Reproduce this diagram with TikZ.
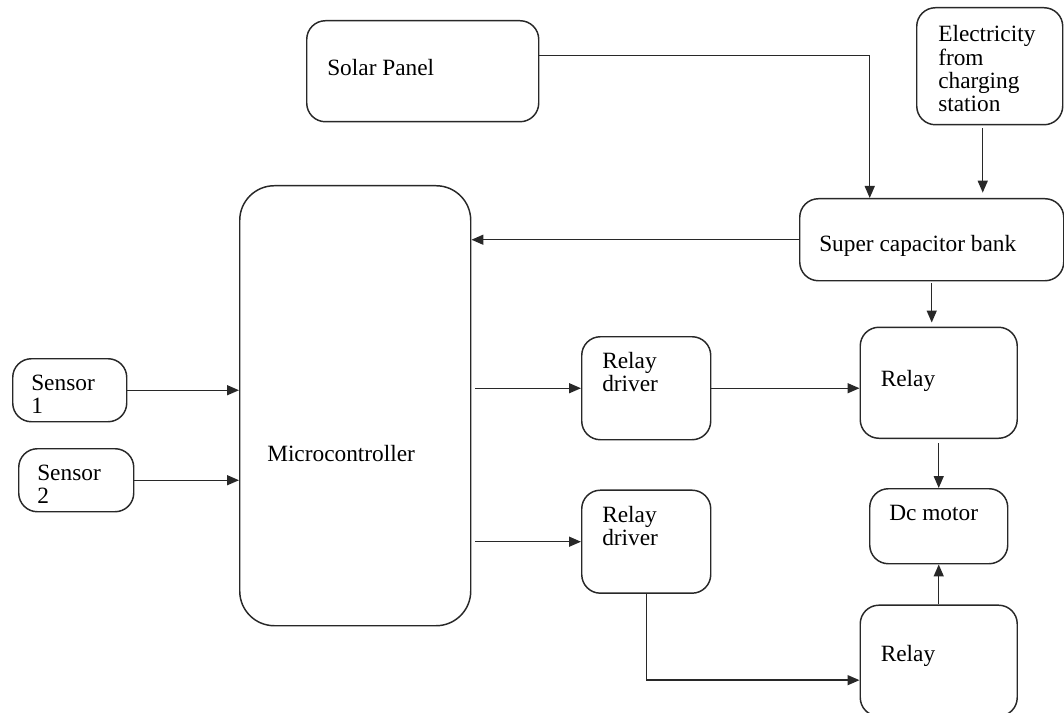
\documentclass[tikz,border=0pt]{standalone}
\usepackage{fontspec}
\setmainfont{Liberation Serif}
\usetikzlibrary{arrows.meta,positioning}
\definecolor{LineGray}{RGB}{40,40,40}
\tikzset{
  block/.style={draw=LineGray, line width=1.1pt, rounded corners=14pt, inner sep=0pt},
  tag/.style={anchor=west, inner sep=0pt, align=left, text=black, font=\fontsize{17.5}{17.5}\selectfont},
  link/.style={draw=LineGray, line width=1.1pt, -{Triangle[length=9pt,width=7.5pt]}}
}

\begin{document}
\begin{tikzpicture}[x=0.75pt,y=-0.75pt]
\useasboundingbox (0,0) rectangle (1064,713);
\node[block, anchor=north west, minimum width=174pt, minimum height=75.75pt, label={[tag,xshift=15.75pt,yshift=2.6pt]west:Solar Panel}] (SP) at (306,20) {};
\node[block, anchor=north west, minimum width=109.5pt, minimum height=87.75pt, label={[tag,xshift=16.5pt,yshift=-1.9pt]west:Electricity\\from\\charging\\station}] (ECS) at (916,7) {};
\node[block, anchor=north west, minimum width=198pt, minimum height=61.5pt, label={[tag,xshift=15pt,yshift=-4.5pt]west:Super capacitor bank}] (SCB) at (799,198) {};
\node[block, rounded corners=26pt, anchor=north west, minimum width=173.25pt, minimum height=330pt, label={[tag,xshift=21pt,yshift=-36pt]west:Microcontroller}] (MC) at (239,185) {};
\node[block, anchor=north west, minimum width=85.5pt, minimum height=47.25pt, label={[tag,xshift=14.25pt,yshift=-3pt]west:Sensor\\1}] (S1) at (12,358) {};
\node[block, anchor=north west, minimum width=86.25pt, minimum height=47.25pt, label={[tag,xshift=14.25pt,yshift=-3pt]west:Sensor\\2}] (S2) at (18,448) {};
\node[block, anchor=north west, minimum width=96.75pt, minimum height=77.25pt, label={[tag,xshift=15.75pt,yshift=12pt]west:Relay\\driver}] (RD1) at (581,336) {};
\node[block, below=36.75pt of RD1, minimum width=96.75pt, minimum height=77.25pt, label={[tag,xshift=15.75pt,yshift=12pt]west:Relay\\driver}] (RD2) {};
\node[block, anchor=north west, minimum width=103.5pt, minimum height=56.25pt, label={[tag,xshift=15pt,yshift=10pt]west:Dc motor}] (DCM) at (869,488) {};
\node[block, above=36.75pt of DCM, minimum width=117.75pt, minimum height=83.25pt, label={[tag,xshift=15.75pt,yshift=1.1pt]west:Relay}] (R1) {};
\node[block, below=30pt of DCM, minimum width=117.75pt, minimum height=83.25pt, label={[tag,xshift=15.75pt,yshift=3.4pt]west:Relay}] (R2) {};
\draw[link] ([yshift=11.6pt]SP.east) -| ([xshift=-46.5pt]SCB.north);
\draw[link, shorten <=2pt, shorten >=4pt] ([xshift=-5.25pt]ECS.south) -- ([xshift=-5.25pt]ECS.south |- SCB.north);
\draw[link] (SCB.west) -- (SCB.west -| MC.east);
\draw[link, shorten <=1pt, shorten >=3pt] (SCB.south) -- (SCB.south |- R1.north);
\draw[link] (S1.east) -- (S1.east -| MC.west);
\draw[link] (S2.east) -- (S2.east -| MC.west);
\draw[link, shorten <=3pt] (MC.east |- RD1.west) -- (RD1.west);
\draw[link, shorten <=3pt] (MC.east |- RD2.west) -- (RD2.west);
\draw[link] (RD1.east) -- (RD1.east -| R1.west);
\draw[link, shorten <=3pt] (R1.south) -- (DCM.north);
\draw[link] (R2.north) -- (DCM.south);
\draw[link] (RD2.south) |- ([yshift=-14.6pt]R2.west);
\end{tikzpicture}
\end{document}
